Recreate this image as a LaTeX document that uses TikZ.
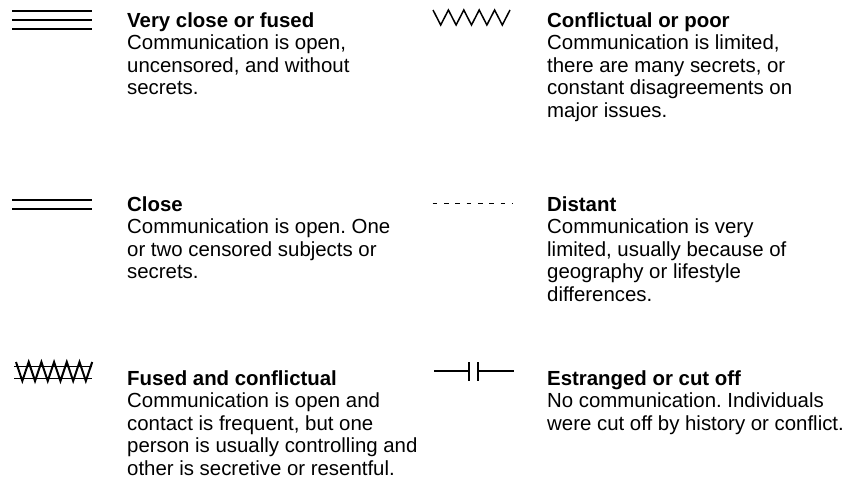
\documentclass[tikz,border=0pt]{standalone}
\usepackage{fontspec}
\setmainfont{Liberation Sans}
\frenchspacing
\begin{document}
\begin{tikzpicture}[x=1pt,y=-1pt,
  desc/.style={anchor=base west, inner sep=0pt, align=left, font=\fontsize{20.4}{22.6}\selectfont},
  thick2/.style={line width=2pt, draw=black},
  thin2/.style={line width=1.5pt, draw=black}]
\useasboundingbox (0,0) rectangle (855,482);
% Very close or fused
\draw[thick2] (12,11) -- (92,11) (12,20) -- (92,20) (12,29) -- (92,29);
% Close
\draw[thick2] (12,200.3) -- (92,200.3) (12,209.3) -- (92,209.3);
% Fused and conflictual
\draw[line width=1.8pt] (14,366.5) -- (92,366.5) (14,378.5) -- (92,378.5);
\draw[line width=2pt, line join=miter] (16,362)
  \foreach \i in {0,...,5} { -- ({22.35+12.7*\i},381) -- ({28.7+12.7*\i},362) };
% Conflictual or poor
\draw[thin2, line join=miter] (433,10)
  \foreach \i in {0,...,4} { -- ({440.7+15.4*\i},25) -- ({448.4+15.4*\i},10) };
% Distant
\draw[line width=1.6pt, dash pattern=on 4.7pt off 6.6pt] (432.7,203.3) -- (512.5,203.3);
% Estranged
\draw[thin2] (434,371) -- (470,371) (469,362) -- (469,381) (478,362) -- (478,381) (478,371) -- (514,371);
% Texts (base anchor = baseline of the last line; line pitch 22.6)
\node[desc] (t1) at (127,94.8) {\textbf{Very close or fused}\\Communication is open,\\uncensored, and without\\secrets.};
\node[desc] (t2) at (127,278.8) {\textbf{Close}\\Communication is open. One\\or two censored subjects or\\secrets.};
\node[desc] (t3) at (127,475.4) {\textbf{Fused and conflictual}\\Communication is open and\\contact is frequent, but one\\person is usually controlling and\\other is secretive or resentful.};
\node[desc] (t4) at (547,117.4) {\textbf{Conflictual or poor}\\Communication is limited,\\there are many secrets, or\\constant disagreements on\\major issues.};
\node[desc] (t5) at (547,301.4) {\textbf{Distant}\\Communication is very\\limited, usually because of\\geography or lifestyle\\differences.};
\node[desc] (t6) at (547,430.2) {\textbf{Estranged or cut off}\\No communication. Individuals\\were cut off by history or conflict.};
\end{tikzpicture}
\end{document}
